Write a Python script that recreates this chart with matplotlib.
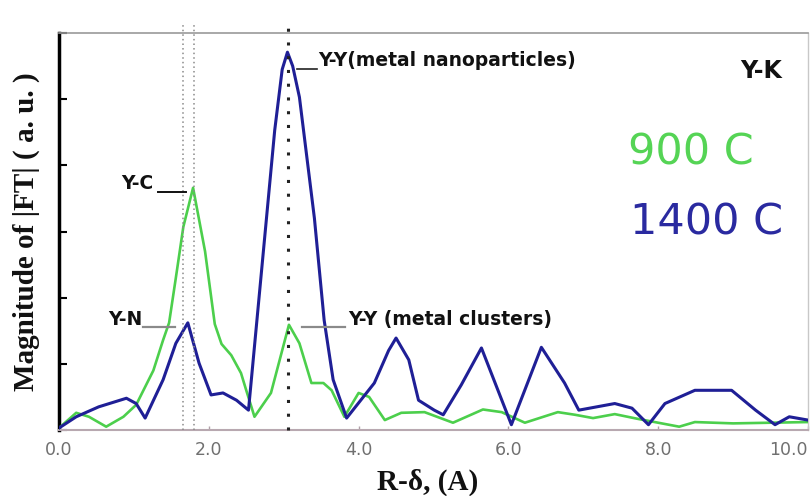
import matplotlib
matplotlib.use("Agg")
import matplotlib.pyplot as plt

# Fourier-transform magnitude of the Y K-edge EXAFS
r_900 = [0.0, 0.23, 0.4, 0.63, 0.86, 1.03, 1.26, 1.39, 1.47, 1.56, 1.66, 1.79,
         1.95, 2.08, 2.17, 2.3, 2.43, 2.5, 2.61, 2.83, 3.07, 3.21, 3.37, 3.53,
         3.64, 3.81, 4.0, 4.14, 4.35, 4.57, 4.88, 5.26, 5.66, 5.91, 6.22, 6.66,
         6.89, 7.13, 7.42, 7.72, 8.28, 8.49, 9.0, 10.0]
m_900 = [0.03, 0.26, 0.2, 0.05, 0.2, 0.38, 0.9, 1.36, 1.62, 2.3, 3.07, 3.66,
         2.7, 1.6, 1.3, 1.13, 0.86, 0.6, 0.2, 0.56, 1.59, 1.31, 0.71, 0.71,
         0.6, 0.2, 0.56, 0.5, 0.15, 0.26, 0.27, 0.11, 0.31, 0.27, 0.11, 0.27,
         0.23, 0.18, 0.24, 0.17, 0.05, 0.12, 0.1, 0.12]

r_1400 = [0.0, 0.23, 0.53, 0.9, 1.03, 1.15, 1.39, 1.56, 1.72, 1.87, 2.03, 2.19,
          2.37, 2.53, 2.77, 2.88, 2.98, 3.05, 3.12, 3.21, 3.41, 3.54, 3.66, 3.84,
          4.21, 4.4, 4.5, 4.67, 4.8, 5.01, 5.13, 5.37, 5.64, 6.04, 6.44, 6.75,
          6.94, 7.42, 7.65, 7.87, 8.09, 8.49, 8.98, 9.3, 9.56, 9.75, 10.0]
m_1400 = [0.03, 0.2, 0.35, 0.48, 0.4, 0.18, 0.76, 1.31, 1.62, 1.01, 0.53, 0.56,
          0.45, 0.3, 3.2, 4.53, 5.45, 5.71, 5.5, 5.03, 3.2, 1.66, 0.76, 0.18,
          0.71, 1.2, 1.39, 1.06, 0.45, 0.3, 0.23, 0.68, 1.24, 0.08, 1.25, 0.71,
          0.3, 0.4, 0.33, 0.08, 0.4, 0.6, 0.6, 0.3, 0.08, 0.2, 0.15]

x_ticks = [0, 2, 4, 6, 8, 10]
x_tick_labels = ["0.0", "2.0", "4.0", "6.0", "8.0", "10.0"]
shell_positions = [1.66, 1.80]
metal_position = 3.06

green = "#4ccf4c"
blue = "#1f1f96"

fig = plt.figure(figsize=(8.10, 4.96), dpi=100)
ax = fig.add_axes([59 / 810, 66 / 496, 749 / 810, 397 / 496])

ax.plot(r_900, m_900, color=green, lw=1.9, zorder=3)
ax.plot(r_1400, m_1400, color=blue, lw=2.2, zorder=4)

for xv in shell_positions:
    ax.plot([xv, xv], [0, 6.14], color="#8a8a8a", lw=1.1,
            linestyle=(0, (1, 2)), clip_on=False, zorder=5)
ax.plot([metal_position, metal_position], [0, 6.14], color="#222222", lw=2.2,
        linestyle=(0, (1, 3.5)), clip_on=False, zorder=6)

ax.set_xlim(0, 10)
ax.set_ylim(0, 6)
ax.set_xticks(x_ticks)
ax.set_xticklabels(x_tick_labels)
ax.get_xticklabels()[-1].set_horizontalalignment("right")
ax.set_yticks(range(0, 7))
ax.set_yticklabels([])
ax.tick_params(axis="y", direction="in", length=6, width=1.5, color="black")
ax.tick_params(axis="x", direction="in", length=3, width=1, color="#b0a0a8",
               labelsize=12.5, labelcolor="#707070", pad=8)

ax.spines["left"].set_linewidth(2.5)
ax.spines["left"].set_color("black")
ax.spines["top"].set_linewidth(1.2)
ax.spines["top"].set_color("#9a9a9a")
ax.spines["right"].set_linewidth(1.0)
ax.spines["right"].set_color("#c8c8c8")
ax.spines["bottom"].set_linewidth(1.5)
ax.spines["bottom"].set_color("#b8a8b0")

lab = dict(fontsize=13.5, fontweight="bold", color="#111111", family="DejaVu Sans")

# peak assignments with their leader lines
ax.plot([3.18, 3.45], [5.46, 5.46], color="#222222", lw=1.2, zorder=7)
ax.text(3.46, 5.5, "Y-Y(metal nanoparticles)", ha="left", va="baseline", **lab)

ax.plot([1.32, 1.70], [3.60, 3.60], color="#111111", lw=1.4, zorder=7)
ax.text(1.26, 3.64, "Y-C", ha="right", va="baseline", **lab)

ax.plot([1.12, 1.55], [1.56, 1.56], color="#8a8a8a", lw=1.6, zorder=7)
ax.text(1.11, 1.59, "Y-N", ha="right", va="baseline", **lab)

ax.plot([3.24, 3.82], [1.56, 1.56], color="#8a8a8a", lw=1.6, zorder=7)
ax.text(3.86, 1.59, "Y-Y (metal clusters)", ha="left", va="baseline", **lab)

ax.text(9.66, 5.32, "Y-K", ha="right", va="baseline", fontsize=17,
        fontweight="bold", color="#111111", family="DejaVu Sans")
ax.text(7.6, 4.02, "900 C", ha="left", va="baseline", fontsize=31,
        color="#55d455", family="DejaVu Sans")
ax.text(7.62, 2.95, "1400 C", ha="left", va="baseline", fontsize=31,
        color="#2a2aa0", family="DejaVu Sans")

fig.text(26 / 810, 1 - 232 / 496, "Magnitude of |FT| ( a. u. )", rotation=90,
         ha="center", va="center", fontsize=21, fontweight="bold",
         family="Liberation Serif", color="#111111")
fig.text(428 / 810, 1 - 482 / 496, "R-δ, (A)", ha="center", va="center",
         fontsize=21, fontweight="bold", family="Liberation Serif",
         color="#111111")

fig.savefig("out.png", dpi=100)
